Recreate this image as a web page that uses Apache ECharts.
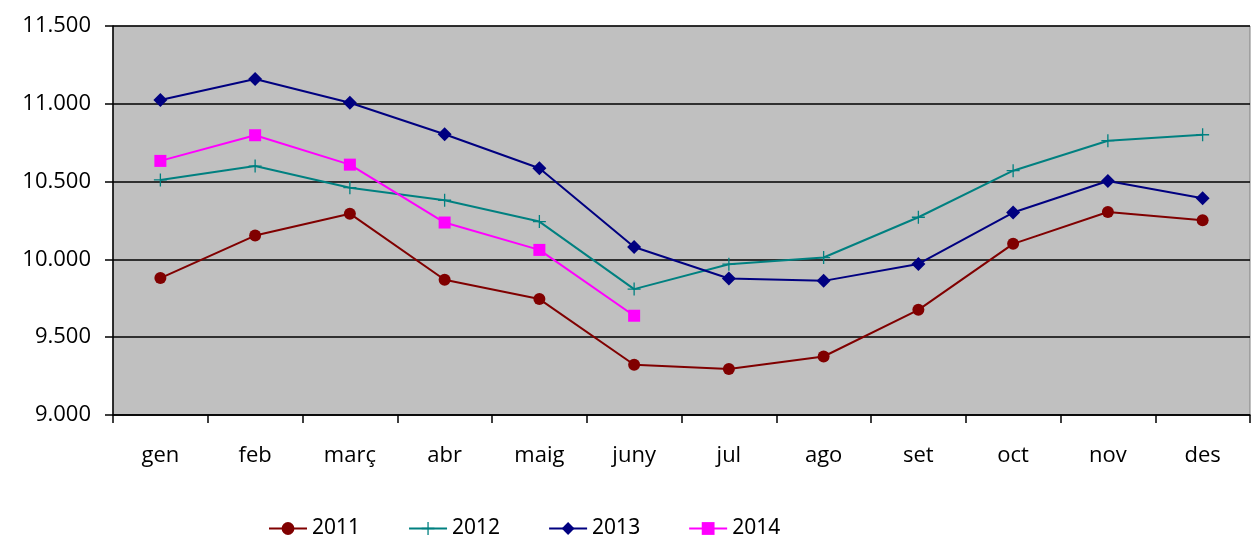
<!DOCTYPE html>
<html>
<head>
<meta charset="utf-8">
<script src="https://cdn.jsdelivr.net/npm/echarts@6/dist/echarts.min.js"></script>
<style>
html,body{margin:0;padding:0;background:#fff;}
#chart{width:1251px;height:538px;}
</style>
</head>
<body>
<div id="chart"></div>
<script>
const categories = ['gen','feb','març','abr','maig','juny','jul','ago','set','oct','nov','des'];
const yTicks = [9000, 9500, 10000, 10500, 11000, 11500];
const s2011 = [9880, 10153, 10294, 9869, 9745, 9323, 9295, 9376, 9676, 10100, 10305, 10252];
const s2012 = [10511, 10600, 10461, 10380, 10243, 9809, 9969, 10012, 10271, 10570, 10763, 10801];
const s2013 = [11024, 11159, 11007, 10804, 10586, 10080, 9877, 9862, 9971, 10301, 10504, 10393];
const s2014 = [10633, 10798, 10609, 10237, 10061, 9638, null, null, null, null, null, null];
const seriesNames = ['2011', '2012', '2013', '2014'];

const fmt = v => String(v).replace(/\B(?=(\d{3})+(?!\d))/g, '.');
const FONT = '"Open Sans", "Noto Sans", sans-serif';
const LFONT = '"Noto Sans", sans-serif';
const plusPath = 'path://M9,0H11V20H9Z M0,9H20V11H0Z';

const chart = echarts.init(document.getElementById('chart'), null, {renderer: 'canvas'});
chart.setOption({
  animation: false,
  backgroundColor: '#fff',
  grid: {
    left: 113, right: 1, top: 26, bottom: 123,
    show: true, backgroundColor: '#C0C0C0', borderColor: '#808080', borderWidth: 1
  },
  legend: {
    left: 263, top: 513,
    itemWidth: 38, itemHeight: 16, itemGap: 48,
    textStyle: {fontFamily: LFONT, fontSize: 21, color: '#000'},
    data: seriesNames
  },
  xAxis: {
    type: 'category',
    data: categories,
    boundaryGap: true,
    axisLine: {lineStyle: {color: '#000', width: 1.5}},
    axisTick: {show: true, length: 8, inside: false, alignWithLabel: false, lineStyle: {color: '#000', width: 1.5}},
    axisLabel: {fontFamily: FONT, fontSize: 22, color: '#000', margin: 30},
    splitLine: {show: false}
  },
  yAxis: {
    type: 'value',
    min: yTicks[0], max: yTicks[yTicks.length - 1], interval: 500,
    axisLine: {show: true, lineStyle: {color: '#000', width: 1.5}},
    axisTick: {show: true, length: 8, inside: false, lineStyle: {color: '#000', width: 1.5}},
    axisLabel: {fontFamily: FONT, fontSize: 22, color: '#000', margin: 22, formatter: fmt},
    splitLine: {show: true, lineStyle: {color: '#000', width: 1.5}}
  },
  series: [
    {name: '2011', type: 'line', data: s2011, color: '#800000', symbol: 'circle', symbolSize: 12,
     lineStyle: {width: 2}, itemStyle: {color: '#800000'}},
    {name: '2012', type: 'line', data: s2012, color: '#008080', symbol: plusPath, symbolSize: 13,
     lineStyle: {width: 2}, itemStyle: {color: '#008080'}},
    {name: '2013', type: 'line', data: s2013, color: '#000080', symbol: 'diamond', symbolSize: 14,
     lineStyle: {width: 2}, itemStyle: {color: '#000080'}},
    {name: '2014', type: 'line', data: s2014, color: '#FF00FF', symbol: 'rect', symbolSize: 12,
     lineStyle: {width: 2}, itemStyle: {color: '#FF00FF'}, connectNulls: false}
  ]
});
</script>
</body>
</html>
